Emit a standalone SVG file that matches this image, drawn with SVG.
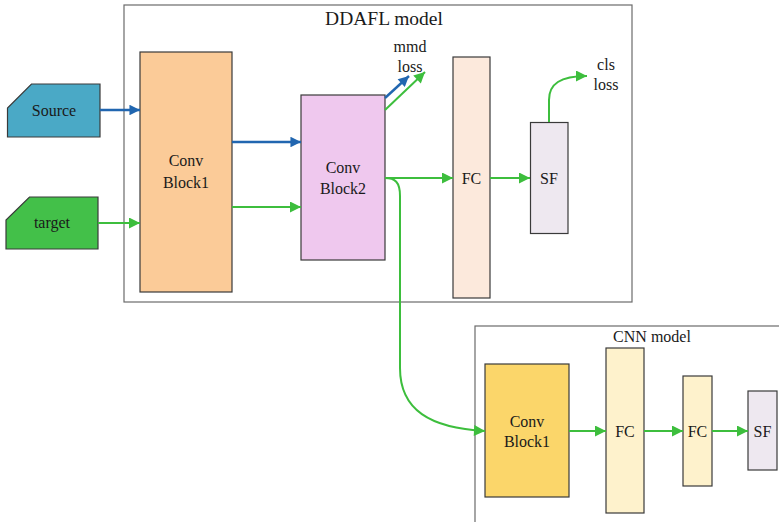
<svg xmlns="http://www.w3.org/2000/svg" width="779" height="522" viewBox="0 0 779 522">
  <style>
    text { font-family: "Liberation Serif", "Times New Roman", serif; fill: #1a1a1a; text-anchor: middle; }
    .lbl { font-size: 16px; }
    .title { font-size: 19.5px; }
    .frame { fill: none; stroke: #6b6b6b; stroke-width: 1.2; }
    .node { stroke: #3a3a3a; stroke-width: 1.2; }
    .g { fill: none; stroke: #3dbe3d; stroke-width: 2; }
    .b { fill: none; stroke: #2166b0; stroke-width: 2.4; }
  </style>
  <defs>
    <marker id="ag" viewBox="0 0 10 10" refX="10" refY="5" markerWidth="8" markerHeight="5.5" markerUnits="strokeWidth" orient="auto">
      <path d="M0,0 L10,5 L0,10 z" fill="#3dbe3d"/>
    </marker>
    <marker id="ab" viewBox="0 0 10 10" refX="10" refY="5" markerWidth="6" markerHeight="4.4" markerUnits="strokeWidth" orient="auto">
      <path d="M0,0 L10,5 L0,10 z" fill="#2166b0"/>
    </marker>
  </defs>

  <rect width="779" height="522" fill="#ffffff"/>

  <g font-family="Liberation Serif, Times New Roman, serif">
  <!-- model frames -->
  <g id="ddafl-frame">
    <rect class="frame" x="124" y="5" width="508" height="297"/>
    <text class="title" x="384" y="25">DDAFL model</text>
  </g>
  <g id="cnn-frame">
    <rect class="frame" x="475" y="326" width="310" height="210"/>
    <text class="lbl" x="652" y="342">CNN model</text>
  </g>

  <!-- inputs -->
  <g id="source">
    <polygon class="node" points="31.5,84 100,84 100,137 7.5,137 7.5,108" fill="#4aa9c6"/>
    <text class="lbl" x="54" y="116">Source</text>
  </g>
  <g id="target">
    <polygon class="node" points="29.5,197 98,197 98,249 6,249 6,220" fill="#43c049"/>
    <text class="lbl" x="52" y="228">target</text>
  </g>

  <!-- DDAFL nodes -->
  <g id="conv-block1">
    <rect class="node" x="140" y="52" width="92" height="240" fill="#fbcb98"/>
    <text class="lbl" x="186" y="166">Conv</text>
    <text class="lbl" x="186" y="188">Block1</text>
  </g>
  <g id="conv-block2">
    <rect class="node" x="301" y="95" width="84" height="165" fill="#efc8ee"/>
    <text class="lbl" x="343" y="173">Conv</text>
    <text class="lbl" x="343" y="194">Block2</text>
  </g>
  <g id="fc">
    <rect class="node" x="453" y="57" width="37" height="241" fill="#fce9dc"/>
    <text class="lbl" x="471.5" y="184">FC</text>
  </g>
  <g id="sf">
    <rect class="node" x="530.5" y="122.5" width="37.5" height="111" fill="#eee8f0"/>
    <text class="lbl" x="549" y="184">SF</text>
  </g>
  <g id="mmd-loss">
    <text class="lbl" x="410" y="52">mmd</text>
    <text class="lbl" x="410" y="72">loss</text>
  </g>
  <g id="cls-loss">
    <text class="lbl" x="606" y="70">cls</text>
    <text class="lbl" x="606" y="90">loss</text>
  </g>

  <!-- CNN nodes -->
  <g id="cnn-conv-block1">
    <rect class="node" x="485" y="364" width="84" height="133" fill="#fbd66a"/>
    <text class="lbl" x="527" y="427">Conv</text>
    <text class="lbl" x="527" y="447">Block1</text>
  </g>
  <g id="cnn-fc1">
    <rect class="node" x="606" y="348" width="38" height="165" fill="#fef2cc"/>
    <text class="lbl" x="625" y="437">FC</text>
  </g>
  <g id="cnn-fc2">
    <rect class="node" x="683" y="376" width="29" height="110" fill="#fef2cc"/>
    <text class="lbl" x="697.5" y="437">FC</text>
  </g>
  <g id="cnn-sf">
    <rect class="node" x="748" y="391" width="29" height="79" fill="#eee8f0"/>
    <text class="lbl" x="762.5" y="437">SF</text>
  </g>
  </g>

  <!-- connectors -->
  <g id="connectors">
    <line class="b" x1="100" y1="110" x2="140" y2="110" marker-end="url(#ab)"/>
    <line class="g" x1="98" y1="223" x2="140" y2="223" marker-end="url(#ag)"/>
    <line class="b" x1="232" y1="142" x2="301" y2="142" marker-end="url(#ab)"/>
    <line class="g" x1="232" y1="207" x2="301" y2="207" marker-end="url(#ag)"/>
    <line class="b" x1="385" y1="98" x2="409" y2="76" marker-end="url(#ab)"/>
    <line class="g" x1="385" y1="110" x2="425" y2="72" marker-end="url(#ag)"/>
    <line class="g" x1="385" y1="178" x2="453" y2="178" marker-end="url(#ag)"/>
    <line class="g" x1="490" y1="178" x2="530" y2="178" marker-end="url(#ag)"/>
    <path class="g" d="M549,122 L549,100 C549,84 560,76 587,76" marker-end="url(#ag)"/>
    <path class="g" d="M385,178 C395,178 400,182 400,196 L400,368 C400,410 430,428 485,431" marker-end="url(#ag)"/>
    <line class="g" x1="569" y1="431" x2="606" y2="431" marker-end="url(#ag)"/>
    <line class="g" x1="644" y1="431" x2="683" y2="431" marker-end="url(#ag)"/>
    <line class="g" x1="712" y1="431" x2="748" y2="431" marker-end="url(#ag)"/>
  </g>
</svg>
